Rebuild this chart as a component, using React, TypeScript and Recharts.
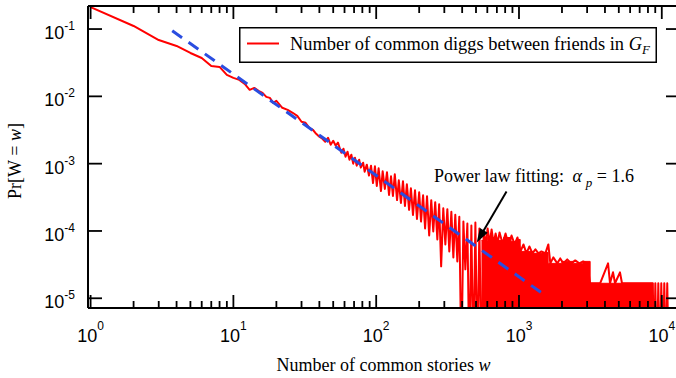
import React from 'react';
import {
  ComposedChart,
  Line,
  Area,
  XAxis,
  YAxis,
  Legend,
  ReferenceLine,
  ReferenceDot,
} from 'recharts';

const SERIF = "'Liberation Serif', 'Times New Roman', Times, serif";
const SANS = "'Liberation Sans', Arial, Helvetica, sans-serif";

// axis ranges
const X_MIN = 0.959;
const X_MAX = 12780;
const Y_MIN = 7.17e-6;
const Y_MAX = 0.22;
const FLOOR = 1e-6; // zero counts are drawn below the visible range

const X_MAJOR = [1, 10, 100, 1000, 10000];
const X_MINOR = [
  2, 3, 4, 5, 6, 7, 8, 9,
  20, 30, 40, 50, 60, 70, 80, 90,
  200, 300, 400, 500, 600, 700, 800, 900,
  2000, 3000, 4000, 5000, 6000, 7000, 8000, 9000,
];
const Y_TICKS = [1e-5, 1e-4, 1e-3, 1e-2, 1e-1];

// Number of common diggs between friends: smooth head
const headW = [1, 2, 3, 4, 5, 6, 7, 8, 9, 10, 11, 12, 13, 14, 15, 16, 17, 18, 19, 20,
  22, 24, 26, 28, 30, 32, 34, 36, 38, 40, 42, 44, 46, 48, 50, 52, 54, 56];
const headP = [0.212, 0.111, 0.0687, 0.0561, 0.0441, 0.0371, 0.0283, 0.0274, 0.0208, 0.0188,
  0.01755, 0.0153, 0.0125, 0.01336, 0.01206, 0.01127, 0.00983, 0.0095, 0.00801, 0.00857,
  0.00676, 0.00631, 0.0057, 0.00514, 0.00419, 0.00405, 0.00341, 0.00319, 0.00278, 0.00251,
  0.00235, 0.00212, 0.00243, 0.00191, 0.00219, 0.00185, 0.00205, 0.00161];

// noisy middle part (0 = no pairs observed)
const midW = [57, 59, 61, 63, 65, 67, 69, 71, 73, 76, 78, 81, 83, 86, 89, 92, 95, 98, 101, 104,
  108, 111, 115, 119, 123, 127, 131, 135, 140, 144, 149, 154, 159, 164, 170, 175, 181, 187, 193, 200,
  206, 213, 220, 227, 235, 243, 251, 259, 268, 276, 285, 295, 305, 315, 325, 336, 347, 358, 370, 382,
  395, 408, 421, 435, 449, 464, 479, 495, 511, 528, 546];
const midP = [1.455e-3, 1.668e-3, 1.269e-3, 1.506e-3, 1.146e-3, 1.359e-3, 1.0e-3, 1.227e-3, 9.34e-4, 1.146e-3,
  8.73e-4, 1.034e-3, 7.61e-4, 9.66e-4, 6.64e-4, 9.34e-4, 5.15e-4, 9.13e-4, 4.66e-4, 8.52e-4,
  3.92e-4, 7.69e-4, 4.21e-4, 7.44e-4, 3.43e-4, 6.48e-4, 3.31e-4, 6.94e-4, 2.88e-4, 5.67e-4,
  2.61e-4, 5.48e-4, 2.35e-4, 4.94e-4, 2.06e-4, 4.31e-4, 1.73e-4, 4.02e-4, 1.51e-4, 3.75e-4,
  1.38e-4, 3.39e-4, 1.088e-4, 3.28e-4, 8.57e-5, 2.87e-4, 9.83e-5, 2.68e-4, 7.48e-5, 2.5e-4,
  2.98e-5, 2.17e-4, 6.31e-5, 2.11e-4, 4.97e-5, 1.93e-4, 4.05e-5, 1.74e-4, 3.53e-5, 1.63e-4,
  0, 1.38e-4, 2.69e-5, 1.29e-4, 0, 1.206e-4, 0, 1.336e-4, 0, 1.088e-4, 0];

// sparse tail: peaks above the dense band
const tailW = [566, 584, 603, 623, 643, 664, 686, 708, 731, 767, 805, 845, 887, 931, 976,
  1025, 1075, 1127, 1183, 1241, 1303, 1368, 1436, 1530, 1605, 1658, 1739, 1854, 1945, 2042,
  2178, 2322, 2477, 2642, 2814, 3000, 3150, 3700, 4205, 4340, 4556, 4705, 5097, 5263, 7026,
  8655, 8797, 9010, 9230, 9455, 9685, 9920, 10160, 10410, 10665, 10920, 11190];
const tailP = [9.83e-5, 6.31e-5, 1.088e-4, 6.53e-5, 1.052e-4, 6.53e-5, 9.18e-5, 6.53e-5, 9.5e-5, 6.53e-5,
  9.18e-5, 6.31e-5, 8.57e-5, 6.31e-5, 8.0e-5, 4.97e-5, 6.31e-5, 4.65e-5, 5.89e-5, 4.65e-5,
  5.32e-5, 4.65e-5, 4.97e-5, 4.65e-5, 6.31e-5, 3.3e-5, 4.05e-5, 3.3e-5, 3.91e-5, 3.3e-5,
  3.78e-5, 3.3e-5, 3.65e-5, 3.3e-5, 3.53e-5, 3.3e-5, 1.67e-5, 1.67e-5, 3.3e-5, 1.67e-5,
  2.43e-5, 1.67e-5, 2.43e-5, 1.67e-5, 1.67e-5, 1.67e-5, 0, 1.67e-5, 0, 1.67e-5,
  0, 1.67e-5, 0, 1.67e-5, 0, 1.67e-5, 0];

// dense band of the tail (lowest observed level, filled down to zero)
const bandW = [546, 600, 700, 780, 880, 960, 1020, 1250, 1450, 1600, 2000, 2400, 2800, 3150, 8655];
const bandP = [7.23e-5, 8.0e-5, 7.23e-5, 8.0e-5, 6.99e-5, 7.48e-5, 4.97e-5, 4.65e-5, 4.81e-5, 3.3e-5,
  3.53e-5, 3.3e-5, 3.53e-5, 1.67e-5, 1.67e-5];

// power law fit (alpha_p = 1.6)
const fitW = [3.73, 1567];
const fitP = [0.0944, 1.06e-5];

// annotation
const arrowFrom = { w: 818, p: 3.85e-4 };
const arrowTo = { w: 506, p: 6.75e-5 };
const noteAt = { w: 253.7, p: 5.41e-4 };

const mk = (ws: number[], ps: number[]) =>
  ws.map((w, i) => ({ w, p: ps[i] > 0 ? ps[i] : FLOOR }));

const redData = [...mk(headW, headP), ...mk(midW, midP), ...mk(tailW, tailP)];
const bandData = mk(bandW, bandP);
const fitData = mk(fitW, fitP);
const X_TICKS = [...X_MAJOR, ...X_MINOR].sort((a, b) => a - b);

const isMajor = (v: number) => Math.abs(Math.log10(v) - Math.round(Math.log10(v))) < 1e-9;

const BottomTick = (props: any) => {
  const { x, y, payload } = props;
  const v = payload.value;
  const major = isMajor(v);
  return (
    <g>
      <line x1={x} x2={x} y1={y} y2={y - (major ? 13 : 7)} stroke="#000" strokeWidth={1.8} />
      {major && (
        <text x={x} y={y + 34} textAnchor="middle" fontFamily={SANS} fontSize={18} fill="#000">
          10<tspan dy={-12} fontSize={12}>{Math.round(Math.log10(v))}</tspan>
        </text>
      )}
    </g>
  );
};

const TopTick = (props: any) => {
  const { x, y, payload } = props;
  const major = isMajor(payload.value);
  return <line x1={x} x2={x} y1={y} y2={y + (major ? 13 : 7)} stroke="#000" strokeWidth={1.8} />;
};

const LeftTick = (props: any) => {
  const { x, y, payload } = props;
  const e = Math.round(Math.log10(payload.value));
  return (
    <g>
      <line x1={x} x2={x + 14} y1={y} y2={y} stroke="#000" strokeWidth={1.8} />
      <text x={x - 13} y={y + 10} textAnchor="end" fontFamily={SANS} fontSize={18} fill="#000">
        10<tspan dy={-9} fontSize={12}>{e}</tspan>
      </text>
    </g>
  );
};

const RightTick = (props: any) => {
  const { x, y } = props;
  return <line x1={x} x2={x - 11} y1={y} y2={y} stroke="#000" strokeWidth={1.8} />;
};

const XTitle = (props: any) => {
  const vb = props.viewBox || { x: 88, y: 308, width: 589, height: 70 };
  return (
    <text x={vb.x + vb.width / 2 + 1} y={vb.y + 63} textAnchor="middle" fontFamily={SERIF} fontSize={18} fill="#000">
      Number of common stories <tspan fontStyle="italic">w</tspan>
    </text>
  );
};

const YTitle = () => (
  <text x={21} y={161} transform="rotate(-90, 21, 161)" textAnchor="middle" fontFamily={SERIF} fontSize={18} fill="#000">
    Pr[W = <tspan fontStyle="italic">w</tspan>]
  </text>
);

const ArrowShape = (props: any) => {
  const { x1, y1, x2, y2 } = props;
  const dx = x2 - x1;
  const dy = y2 - y1;
  const len = Math.sqrt(dx * dx + dy * dy) || 1;
  const ux = dx / len;
  const uy = dy / len;
  const hl = 14;
  const hw = 4.5;
  const bx = x2 - ux * hl;
  const by = y2 - uy * hl;
  return (
    <g>
      <line x1={x1} y1={y1} x2={bx + ux * 2} y2={by + uy * 2} stroke="#000" strokeWidth={2} />
      <polygon
        points={`${x2},${y2} ${bx - uy * hw},${by + ux * hw} ${bx + uy * hw},${by - ux * hw}`}
        fill="#000"
      />
    </g>
  );
};

const NoteText = (props: any) => {
  const { cx, cy } = props;
  return (
    <text x={cx} y={cy} fontFamily={SERIF} fontSize={18} fill="#000">
      Power law fitting: <tspan fontStyle="italic" dx={4}>α</tspan>
      <tspan fontStyle="italic" fontSize={13} dx={4} dy={5}>p</tspan>
      <tspan dy={-5}> = 1.6</tspan>
    </text>
  );
};

const LegendBox = () => (
  <svg width={418} height={36} style={{ display: 'block' }}>
    <rect x={0.75} y={0.75} width={416.5} height={34.5} fill="#fff" stroke="#000" strokeWidth={1.5} />
    <line x1={8} x2={40} y1={16.5} y2={16.5} stroke="#ff0000" strokeWidth={2} />
    <text x={51} y={22.5} fontFamily={SERIF} fontSize={18.4} fill="#000">
      Number of common diggs between friends in <tspan fontStyle="italic">G</tspan>
      <tspan fontStyle="italic" fontSize={13} dy={4}>F</tspan>
    </text>
  </svg>
);

export default function App() {
  return (
    <div style={{ position: 'absolute', left: 0, top: 0, width: 676, height: 378, overflow: 'hidden', background: '#fff' }}>
      <ComposedChart width={680} height={378} margin={{ top: 5, right: 0, bottom: 0, left: 0 }}>
        <XAxis
          xAxisId={0}
          dataKey="w"
          type="number"
          scale="log"
          domain={[X_MIN, X_MAX]}
          allowDataOverflow
          ticks={X_TICKS}
          interval={0}
          height={70}
          tickSize={0}
          tickMargin={0}
          tickLine={false}
          axisLine={{ stroke: '#000', strokeWidth: 2 }}
          tick={BottomTick}
          label={XTitle}
        />
        <XAxis
          xAxisId="top"
          orientation="top"
          dataKey="w"
          type="number"
          scale="log"
          domain={[X_MIN, X_MAX]}
          allowDataOverflow
          ticks={X_TICKS}
          interval={0}
          height={1}
          tickSize={0}
          tickMargin={0}
          tickLine={false}
          axisLine={{ stroke: '#000', strokeWidth: 2 }}
          tick={TopTick}
        />
        <YAxis
          yAxisId={0}
          type="number"
          scale="log"
          domain={[Y_MIN, Y_MAX]}
          allowDataOverflow
          ticks={Y_TICKS}
          interval={0}
          width={88}
          tickSize={0}
          tickMargin={0}
          tickLine={false}
          axisLine={{ stroke: '#000', strokeWidth: 2 }}
          tick={LeftTick}
          label={YTitle}
        />
        <YAxis
          yAxisId="right"
          orientation="right"
          type="number"
          scale="log"
          domain={[Y_MIN, Y_MAX]}
          allowDataOverflow
          ticks={Y_TICKS}
          interval={0}
          width={3}
          tickSize={0}
          tickMargin={0}
          tickLine={false}
          axisLine={false}
          tick={RightTick}
        />
        <Area
          data={bandData}
          dataKey="p"
          type="stepAfter"
          stroke="#ff0000"
          strokeWidth={1}
          fill="#ff0000"
          fillOpacity={1}
          baseValue={Y_MIN}
          isAnimationActive={false}
          dot={false}
          activeDot={false}
        />
        <Line
          data={redData}
          dataKey="p"
          type="linear"
          stroke="#ff0000"
          strokeWidth={2}
          strokeLinejoin="round"
          dot={false}
          activeDot={false}
          isAnimationActive={false}
        />
        <Line
          data={fitData}
          dataKey="p"
          type="linear"
          stroke="#2a4de0"
          strokeWidth={3}
          strokeDasharray="12 8"
          dot={false}
          activeDot={false}
          isAnimationActive={false}
        />
        <ReferenceLine
          segment={[{ x: arrowFrom.w, y: arrowFrom.p }, { x: arrowTo.w, y: arrowTo.p }]}
          shape={ArrowShape}
        />
        <ReferenceDot x={noteAt.w} y={noteAt.p} r={0} shape={NoteText} />
        <Legend
          verticalAlign="middle"
          align="center"
          content={LegendBox}
          wrapperStyle={{ left: 239, top: 27, width: 418, height: 36 }}
        />
      </ComposedChart>
    </div>
  );
}
